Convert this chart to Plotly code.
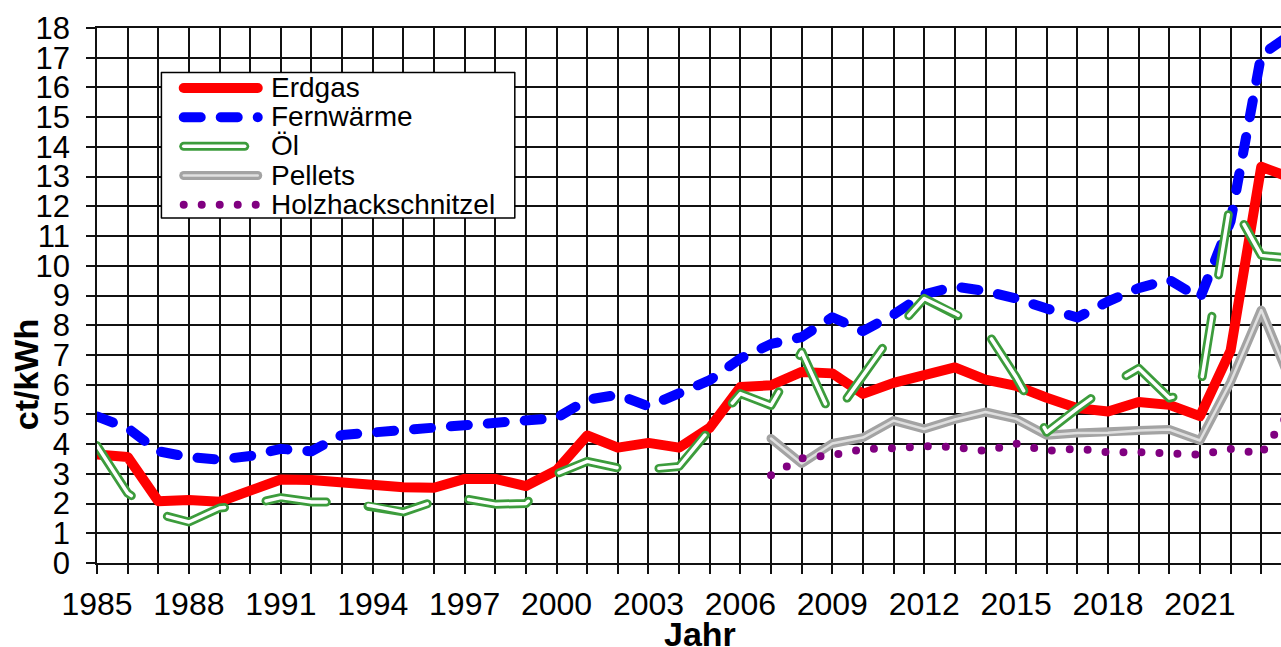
import plotly.graph_objects as go

# ---------------- data ----------------
years = list(range(1985, 2025))
years_bio = list(range(2007, 2025))

erdgas = [3.65, 3.57, 2.08, 2.12, 2.06, 2.42, 2.81, 2.79, 2.70, 2.61,
          2.55, 2.53, 2.83, 2.83, 2.59, 3.12, 4.29, 3.88, 4.04, 3.88,
          4.55, 5.92, 5.98, 6.43, 6.38, 5.69, 6.06, 6.32, 6.58, 6.17,
          5.96, 5.56, 5.21, 5.10, 5.42, 5.32, 4.94, 7.15, 13.33, 12.95]

fernwaerme = [4.93, 4.54, 3.76, 3.56, 3.48, 3.60, 3.84, 3.76, 4.31, 4.39,
              4.43, 4.50, 4.57, 4.72, 4.78, 4.88, 5.49, 5.66, 5.27, 5.72,
              6.15, 6.88, 7.37, 7.60, 8.27, 7.80, 8.36, 9.04, 9.30, 9.15,
              8.90, 8.56, 8.26, 8.80, 9.25, 9.53, 8.91, 11.50, 17.10, 17.80]

oel = [3.95, 2.35, 1.65, 1.38, 1.85, 1.97, 2.20, 2.05, 2.05, 1.92,
       1.72, 2.07, 2.16, 1.98, 2.00, 3.00, 3.42, 3.20, 3.15, 3.25,
       4.50, 5.70, 5.30, 7.10, 4.85, 6.30, 7.75, 8.90, 8.40, 7.85,
       6.25, 4.40, 5.20, 5.95, 6.55, 5.55, 5.80, 12.20, 10.35, 10.25]

pellets = [4.19, 3.35, 4.02, 4.22, 4.79, 4.51, 4.83, 5.08, 4.85, 4.30,
           4.37, 4.38, 4.46, 4.49, 4.12, 6.09, 8.51, 6.00]

holz = [2.95, 3.52, 3.63, 3.83, 3.86, 3.93, 3.90, 3.77, 4.02, 3.77,
        3.85, 3.72, 3.73, 3.70, 3.64, 3.84, 3.67, 5.20]

x_tick_labels = [str(y) for y in range(1985, 2022, 3)]
x_tick_vals = list(range(1985, 2022, 3))
y_tick_vals = list(range(0, 19))

# ---------------- styles ----------------
FONT = "Liberation Sans, Arial, sans-serif"
W, H = 1281, 647
PL, PR, PT, PB = 97.3, 1281.0, 28.3, 563.5
X_END = 1985 + (PR - PL) / 30.63

def fx(px):
    return (px - PL) / (PR - PL)

def fy(py):
    return (PB - py) / (PB - PT)

# each series: name, x, y, list of stroke layers (color, width, dash)
series = [
    ("Pellets", years_bio, pellets, [("#a3a3a3", 9, "solid"), ("#e0e0e0", 2.5, "solid")]),
    ("Holzhackschnitzel", years_bio, holz, [("#800080", 8, "0px,18px")]),
    ("Erdgas", years, erdgas, [("#ff0000", 10, "solid")]),
    ("Fernwärme", years, fernwaerme, [("#0000ff", 10, "17px,20px")]),
    ("Öl", years, oel, [("#3c9c3c", 9, "61px,42px"), ("#ffffff", 3.5, "61px,42px")]),
]
legend_order = ["Erdgas", "Fernwärme", "Öl", "Pellets", "Holzhackschnitzel"]

fig = go.Figure()
for name, xs, ys, layers in series:
    for color, width, dash in layers:
        fig.add_trace(go.Scatter(
            x=xs, y=ys, mode="lines", name=name, showlegend=False,
            hoverinfo="skip", line=dict(color=color, width=width, dash=dash),
            cliponaxis=True))

# ---------------- manual legend ----------------
shapes = [dict(type="rect", xref="paper", yref="paper", layer="above",
               x0=fx(161.7), x1=fx(515), y0=fy(218.3), y1=fy(72.7),
               line=dict(color="#000000", width=1.5), fillcolor="#ffffff")]
annotations = []
style_by_name = {s[0]: s[3] for s in series}
for i, name in enumerate(legend_order):
    yc = 88.3 + i * 29.2
    for color, width, dash in style_by_name[name]:
        shapes.append(dict(type="line", xref="paper", yref="paper", layer="above",
                           x0=fx(184), x1=fx(258), y0=fy(yc), y1=fy(yc),
                           line=dict(color=color, width=width, dash=dash)))
    annotations.append(dict(text=name, xref="paper", yref="paper",
                            x=fx(269), y=fy(yc - 0.5), xanchor="left", yanchor="middle",
                            showarrow=False, font=dict(family=FONT, size=28, color="#000")))

annotations.append(dict(text="<b>Jahr</b>", xref="paper", yref="paper",
                        x=fx(700), y=fy(635), xanchor="center", yanchor="middle",
                        showarrow=False, font=dict(family=FONT, size=34, color="#000")))
annotations.append(dict(text="<b>ct/kWh</b>", xref="paper", yref="paper",
                        x=fx(26), y=fy(375), xanchor="center", yanchor="middle",
                        textangle=-90, showarrow=False,
                        font=dict(family=FONT, size=34, color="#000")))

GRID = "#111111"
fig.update_layout(
    width=W, height=H, autosize=False,
    paper_bgcolor="#ffffff", plot_bgcolor="#ffffff",
    margin=dict(l=PL, r=W - PR, t=PT, b=H - PB, autoexpand=False),
    showlegend=False,
    shapes=shapes, annotations=annotations,
    xaxis=dict(range=[1985, X_END], tickmode="array", tickvals=x_tick_vals,
               ticktext=x_tick_labels, ticks="outside", ticklen=9, tickwidth=1.5,
               tickcolor=GRID, showgrid=True, gridcolor=GRID, gridwidth=1.5,
               showline=True, linecolor=GRID, linewidth=1.5, mirror=True,
               zeroline=False, ticklabelstandoff=3,
               tickfont=dict(family=FONT, size=32, color="#000"),
               minor=dict(dtick=1, tick0=1985, ticks="outside", ticklen=9, tickwidth=1.5,
                          tickcolor=GRID, showgrid=True, gridcolor=GRID, gridwidth=1.5)),
    yaxis=dict(range=[0, 18], tickmode="array", tickvals=y_tick_vals,
               ticks="outside", ticklen=9, tickwidth=1.5, tickcolor=GRID,
               showgrid=True, gridcolor=GRID, gridwidth=1.5,
               showline=True, linecolor=GRID, linewidth=1.5,
               zeroline=False, ticklabelstandoff=10,
               tickfont=dict(family=FONT, size=31, color="#000")),
)

post = """
var s = document.createElement('style');
s.textContent = 'html,body{margin:0;padding:0;overflow:hidden}' +
                '.scatterlayer .js-line{stroke-linecap:round;stroke-linejoin:round}' +
                '.shapelayer path{stroke-linecap:round;stroke-linejoin:round}';
document.head.appendChild(s);
"""
fig.write_html("out.html", post_script=post, config={"displayModeBar": False})
